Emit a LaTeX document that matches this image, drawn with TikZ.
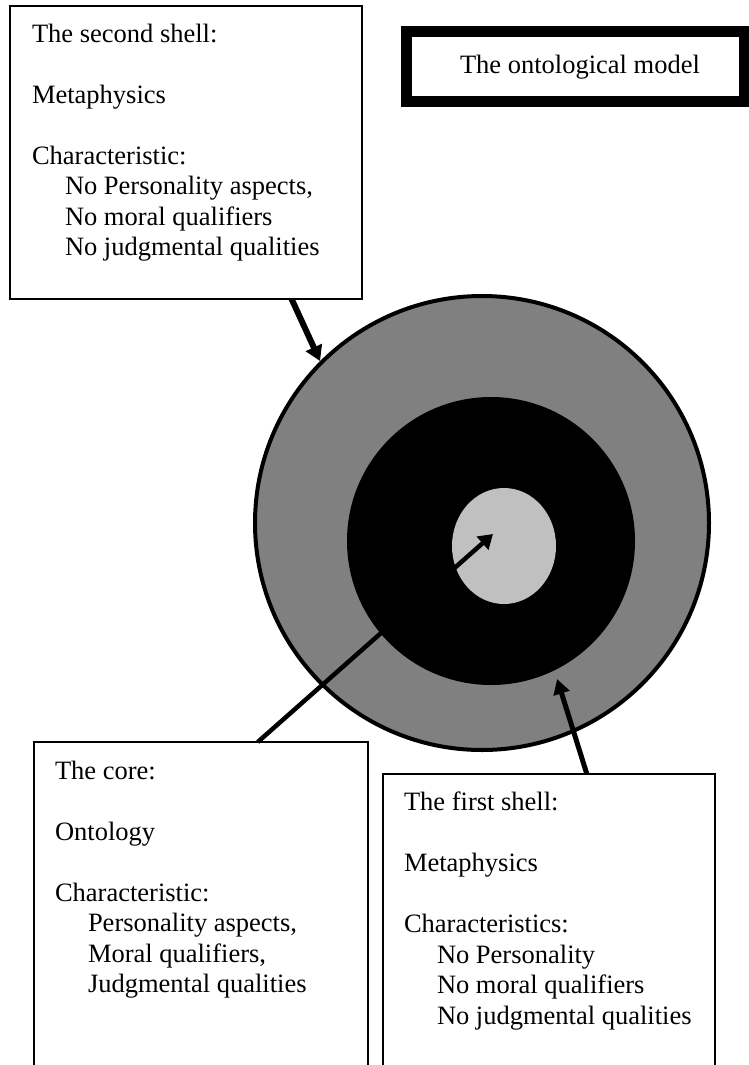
\documentclass[tikz,border=0pt]{standalone}
\usepackage{fontspec}
\setmainfont{Liberation Serif}
\usetikzlibrary{arrows.meta,calc,shapes.geometric}
\definecolor{ringgrey}{HTML}{808080}
\definecolor{coregrey}{HTML}{C0C0C0}
\begin{document}
\begin{tikzpicture}[x=1pt,y=1pt,
  textbox/.style={draw=black, line width=1.5pt, fill=white, rectangle,
    anchor=north west, inner sep=0pt, outer sep=0pt},
  boxtext/.style={anchor=north west, inner sep=0pt, outer sep=0pt,
    align=left, font=\fontsize{26.5}{30.5}\selectfont},
  pointer/.style={line width=#1, draw=black}
]
% page area
\fill[white] (0,0) rectangle (749,-1065);
\clip (0,0) rectangle (749,-1065);

% title (text sits a little right of the frame's centre)
\node[draw=black, line width=11pt, minimum width=338pt, minimum height=69.5pt,
  inner sep=0pt, outer sep=0pt, font=\fontsize{26.5}{30.5}\selectfont]
  (title) at (575,-66.75) {\hspace*{10pt}The ontological model};

% description boxes
\node[textbox, minimum width=352pt, minimum height=293pt] (second) at (10,-6) {};
\node[textbox, minimum width=334pt, minimum height=340pt] (corebox) at (34,-742) {};
\node[textbox, minimum width=332pt, minimum height=320pt] (first) at (383,-774) {};

\node[boxtext] (secondtext) at ($(second.north west)+(22,-17.9)$)
  {The second shell:\\[30.5pt]Metaphysics\\[30.5pt]Characteristic:\\
   \hspace*{33pt}No Personality aspects,\\
   \hspace*{33pt}No moral qualifiers\\
   \hspace*{33pt}No judgmental qualities};
\node[boxtext] (coretext) at ($(corebox.north west)+(21,-19)$)
  {The core:\\[30.5pt]Ontology\\[30.5pt]Characteristic:\\
   \hspace*{33pt}Personality aspects,\\
   \hspace*{33pt}Moral qualifiers,\\
   \hspace*{33pt}Judgmental qualities};
\node[boxtext] (firsttext) at ($(first.north west)+(21,-17.9)$)
  {The first shell:\\[30.5pt]Metaphysics\\[30.5pt]Characteristics:\\
   \hspace*{33pt}No Personality\\
   \hspace*{33pt}No moral qualifiers\\
   \hspace*{33pt}No judgmental qualities};

% the shells
\node[circle, draw=black, line width=4pt, fill=ringgrey, minimum size=454pt,
  inner sep=0pt] (outer) at (482,-523) {};
\node[circle, fill=black, minimum size=288pt, inner sep=0pt] (middle) at (491,-541) {};
\node[ellipse, fill=coregrey, minimum width=104pt, minimum height=116pt,
  inner sep=0pt] (core) at (504,-546) {};

% pointers
\draw[pointer=6pt, -{Triangle[length=15pt,width=17pt]}]
  ($(second.south west)!0.8!(second.south east)$) -- (outer.135.5);
\draw[pointer=4.5pt, -{Triangle[length=14pt,width=17pt]}]
  ($(corebox.north west)!0.67!(corebox.north east)$) -- ($(core.center)+(-11,12)$);
\draw[pointer=5pt, -{Triangle[length=15pt,width=16pt]}]
  ($(first.north west)!0.614!(first.north east)$) -- ($(middle.center)+(-64.4:153)$);
\end{tikzpicture}
\end{document}
